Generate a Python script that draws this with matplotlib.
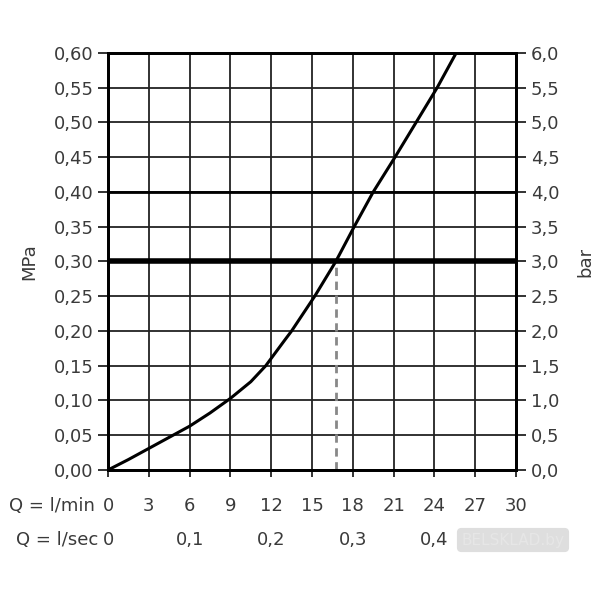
import matplotlib
matplotlib.use("Agg")
import matplotlib.pyplot as plt
import matplotlib.transforms as mtransforms

# flow rate (l/min) vs pressure (MPa)
flow = [0, 1.5, 3, 4.5, 6, 7.5, 9, 10.5, 11.6, 13.0, 13.5, 15.2, 16.75, 18.1, 19.5, 21.1, 22.65, 24.2, 25.6]
pressure = [0, 0.015, 0.031, 0.047, 0.063, 0.082, 0.103, 0.127, 0.15, 0.187, 0.20, 0.25, 0.30,
            0.35, 0.40, 0.45, 0.50, 0.55, 0.60]

lmin_ticks = [0, 3, 6, 9, 12, 15, 18, 21, 24, 27, 30]
lsec_pos = [0, 6, 12, 18, 24]
lsec_labels = ["0", "0,1", "0,2", "0,3", "0,4"]
mpa_ticks = [0, 0.05, 0.10, 0.15, 0.20, 0.25, 0.30, 0.35, 0.40, 0.45, 0.50, 0.55, 0.60]
bar_ticks = [v * 10 for v in mpa_ticks]
ref_pressure = 0.30
ref_flow = 16.75

txt = "#3a3a3a"
fs = 13
plt.rcParams['font.family'] = ['DejaVu Sans']

fig = plt.figure(figsize=(6, 6), dpi=100)
ax = fig.add_axes([0.18, 0.2167, 0.68, 0.695])

for x in lmin_ticks:
    ax.axvline(x, color="#222222", lw=1.3, zorder=1)
for y in mpa_ticks:
    ax.axhline(y, color="#222222", lw=1.3, zorder=1)
ax.axhline(0.40, color="black", lw=2.0, zorder=2)
ax.axhline(ref_pressure, color="black", lw=4.0, zorder=3)
ax.plot([ref_flow, ref_flow], [0, ref_pressure], color="#888888", lw=2, ls=(0, (3, 2)), zorder=2)
ax.plot(flow, pressure, color="black", lw=2.2, zorder=4, solid_joinstyle="round")

ax.set_xlim(0, 30)
ax.set_ylim(0, 0.6)
ax.set_yticks(mpa_ticks)
ax.set_yticklabels([("%.2f" % v).replace(".", ",") for v in mpa_ticks], color=txt, fontsize=fs)
ax.set_xticks(lmin_ticks)
ax.set_xticklabels([])
ax.tick_params(axis="both", direction="out", length=7, width=1.3, colors="#222222", labelcolor=txt)
ax.tick_params(axis="x", length=5)
for s in ax.spines.values():
    s.set_linewidth(2)
ax.set_ylabel("MPa", color=txt, fontsize=fs, labelpad=11)

ax2 = ax.twinx()
ax2.set_ylim(0, 6)
ax2.set_yticks(bar_ticks)
ax2.set_yticklabels([("%.1f" % v).replace(".", ",") for v in bar_ticks], color=txt, fontsize=fs)
ax2.tick_params(axis="y", direction="out", length=7, width=1.3, colors="#222222", labelcolor=txt)
ax2.set_ylabel("bar", color=txt, fontsize=fs, rotation=90, labelpad=12)
for s in ax2.spines.values():
    s.set_linewidth(2)

tr = mtransforms.blended_transform_factory(ax.transData, ax.transAxes)
for x in lmin_ticks:
    ax.text(x, -0.086, str(x), transform=tr, ha="center", va="center", color=txt, fontsize=fs)
for x, lab in zip(lsec_pos, lsec_labels):
    ax.text(x, -0.168, lab, transform=tr, ha="center", va="center", color=txt, fontsize=fs)
fig.text(0.158, 1 - 506 / 600, "Q = l/min", ha="right", va="center", color=txt, fontsize=fs)
fig.text(0.163, 1 - 540 / 600, "Q = l/sec", ha="right", va="center", color=txt, fontsize=fs)

fig.text(0.855, 1 - 540 / 600, "BELSKLAD.by", ha="center", va="center", color="#e6e6e6",
         fontsize=11, bbox=dict(boxstyle="round,pad=0.3", fc="#c8c8c8", ec="none", alpha=0.6))

fig.savefig("out.png", dpi=100)
